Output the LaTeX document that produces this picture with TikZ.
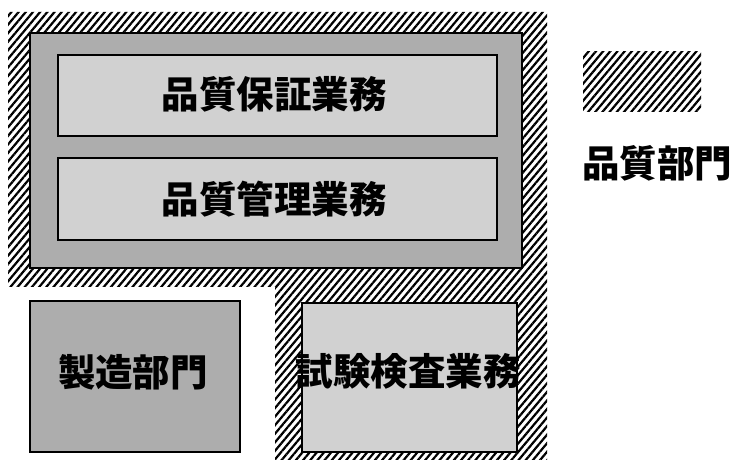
\documentclass[tikz,border=0pt]{standalone}
\usepackage{fontspec}
\newfontfamily\cjk{Noto Sans CJK JP}
\usetikzlibrary{patterns.meta}
\tikzset{
  hatch/.style={pattern={Lines[angle=50,distance=5.5pt,line width=2.2pt]},pattern color=black},
  ring/.style={fill=black!32,draw=black,line width=1.4pt},
  taskbox/.style={fill=black!18,draw=black,line width=1.4pt},
  label/.style={font=\cjk\bfseries\fontsize{37.5}{40}\selectfont,inner sep=0pt}
}
\begin{document}
\begin{tikzpicture}[x=1pt,y=-1pt]
\useasboundingbox (0,0) rectangle (732,462);
% hatched quality department region (L-shape)
\path[hatch] (8,12) -- (547,12) -- (547,460) -- (275,460) -- (275,287) -- (8,287) -- cycle;
% inner grey frame
\draw[ring] (30,33) rectangle (522,268);
% task boxes
\draw[taskbox] (58,55) rectangle (497,136);
\draw[taskbox] (58,158) rectangle (497,240);
\draw[ring] (30,301) rectangle (240,452);
\draw[taskbox] (302,303) rectangle (517,452);
% legend swatch
\path[hatch] (583,52) rectangle (701,112);
% texts
\node[label] (qa) at (274,94) {品質保証業務};
\node[label] (qc) at (274,199) {品質管理業務};
\node[label] (mfg) at (133,372) {製造部門};
\node[label] (insp) at (408,371) {試験検査業務};
\node[label] (legend) at (657,163) {品質部門};
\end{tikzpicture}
\end{document}
